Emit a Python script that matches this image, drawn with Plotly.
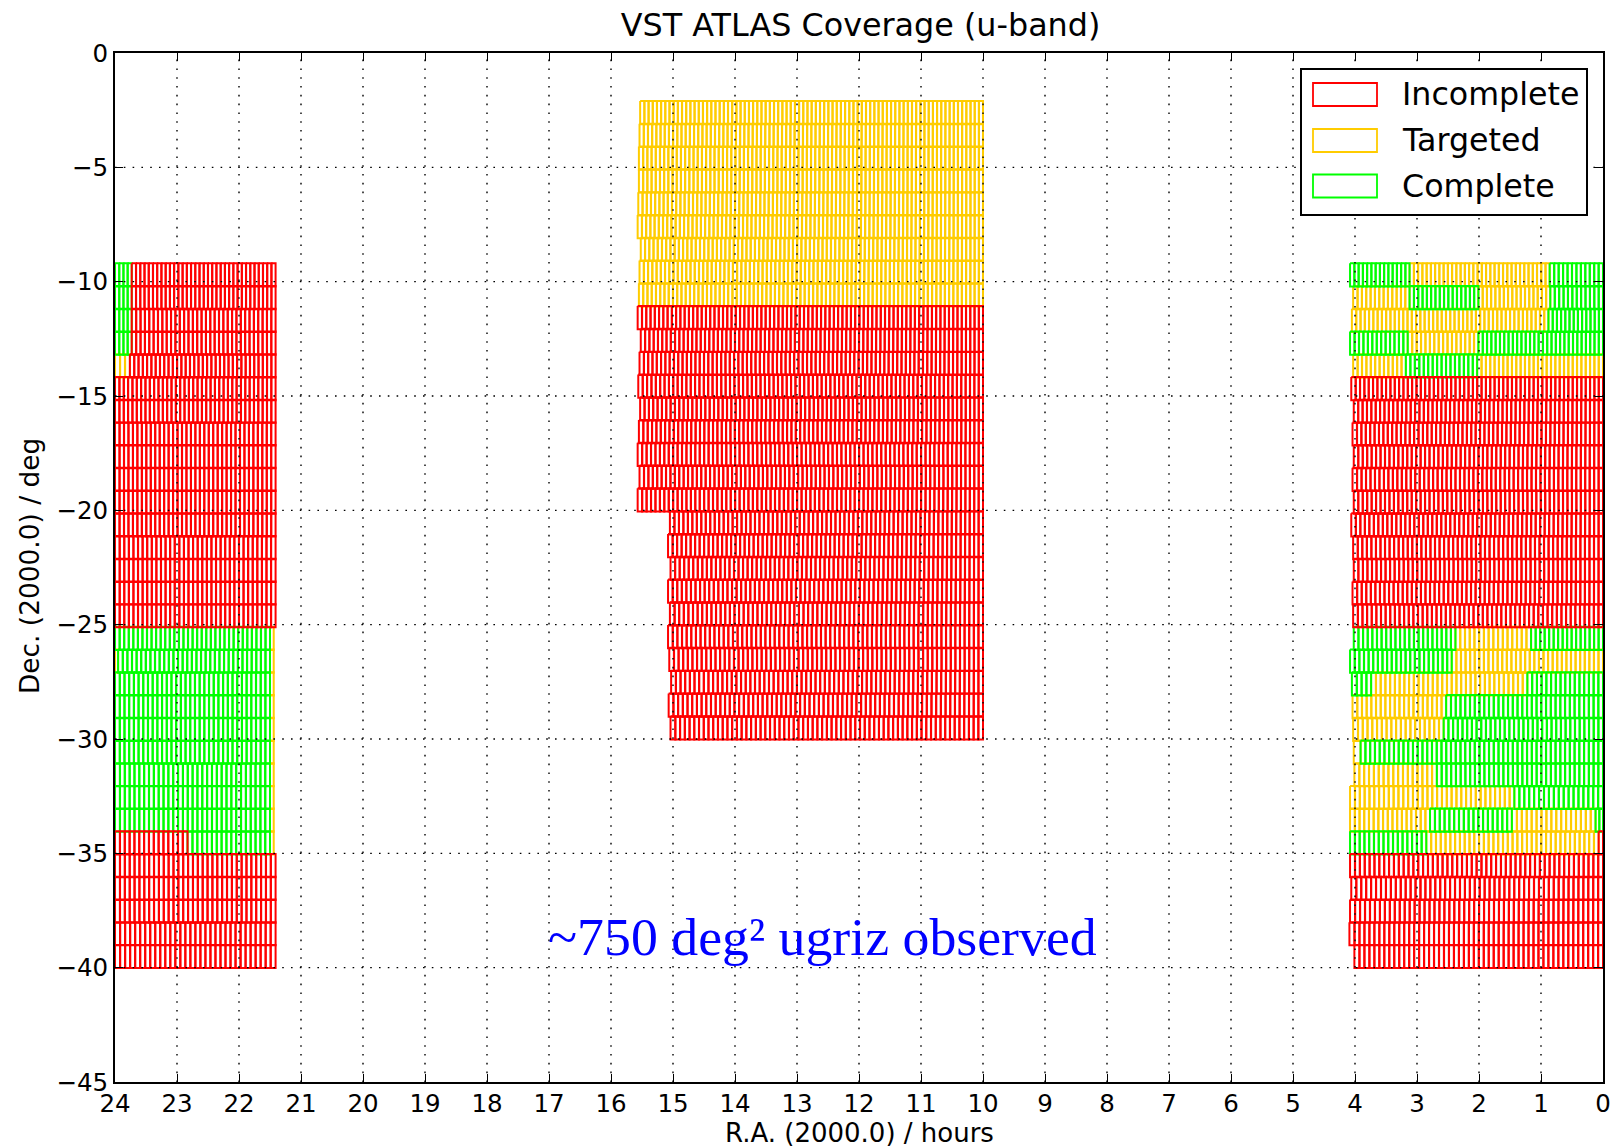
import plotly.graph_objects as go

R, Y, G = "Incomplete", "Targeted", "Complete"
COLORS = {R: "#ff0000", Y: "#ffcc00", G: "#00ff00"}

# Top edge and row height of the centre block and of the two side blocks
CENTRE_TOP, CENTRE_H = -2.1, 0.9964
SIDE_TOP, SIDE_H = -9.2, 0.9935

# RA width (hours) of one tile in each row of the centre block, top to bottom
centre_tile = [0.0675, 0.0675, 0.0676, 0.0677, 0.0678, 0.068, 0.0682, 0.0685, 0.0688, 0.069,
               0.0693, 0.0696, 0.07, 0.0703, 0.0707, 0.071, 0.0714, 0.0718, 0.0722, 0.0726,
               0.073, 0.0734, 0.0738, 0.0742, 0.0746, 0.075, 0.0754, 0.0758]
# RA width (hours) of one tile in each row of the side blocks, top to bottom
side_tile = [0.0688, 0.069, 0.0693, 0.0696, 0.07, 0.0703, 0.0707, 0.071, 0.0714, 0.0718, 0.0722,
             0.0726, 0.073, 0.0734, 0.0738, 0.0742, 0.0746, 0.075, 0.0754, 0.0758, 0.0762, 0.0766,
             0.077, 0.0774, 0.0778, 0.0782, 0.0786, 0.079, 0.0794, 0.0798, 0.08]

# Centre block: left RA of every row; right edge is the same for all
centre_right = 10.0
centre_status = [Y] * 9 + [R] * 19
centre_left = [15.53, 15.54, 15.55, 15.55, 15.56, 15.57, 15.52, 15.54, 15.55,
               15.57, 15.52, 15.54, 15.56, 15.53, 15.55, 15.57, 15.54, 15.57,
               15.05, 15.08, 15.04, 15.08, 15.05, 15.08, 15.06, 15.03, 15.07, 15.04]

# Left block: segments in RA from 24 downward
left_rows = [
    [(24, 23.73, G), (23.73, 21.41, R)],
    [(24, 23.73, G), (23.73, 21.41, R)],
    [(24, 23.73, G), (23.73, 21.41, R)],
    [(24, 23.73, G), (23.73, 21.41, R)],
    [(24, 23.76, Y), (23.76, 21.41, R)],
] + [[(24, 21.41, R)] for _ in range(11)] + [
    [(24, 21.50, G), (21.50, 21.44, Y)],
    [(24, 23.95, Y), (23.95, 21.50, G), (21.50, 21.44, Y)],
    [(24, 21.50, G), (21.50, 21.44, Y)],
    [(24, 21.50, G), (21.50, 21.44, Y)],
    [(24, 21.50, G), (21.50, 21.44, Y)],
    [(24, 21.50, G), (21.50, 21.44, Y)],
    [(24, 21.50, G), (21.50, 21.44, Y)],
    [(24, 21.50, G), (21.50, 21.44, Y)],
    [(24, 21.50, G), (21.50, 21.44, Y)],
    [(24, 22.83, R), (22.83, 21.50, G), (21.50, 21.44, Y)],
] + [[(24, 21.41, R)] for _ in range(5)]

# Right block
right_rows = [
    [(4.08, 3.12, G), (3.12, 0.86, Y), (0.86, 0, G)],
    [(4.03, 3.12, Y), (3.12, 2.01, G), (2.01, 0.85, Y), (0.85, 0, G)],
    [(4.05, 0.88, Y), (0.88, 0, G)],
    [(4.08, 3.15, G), (3.15, 2.01, Y), (2.01, 0, G)],
    [(4.03, 3.18, Y), (3.18, 2.03, G), (2.03, 0, Y)],
    [(4.06, 0, R)], [(4.02, 0, R)], [(4.04, 0, R)], [(4.02, 0, R)], [(4.04, 0, R)], [(4.02, 0, R)],
    [(4.06, 0, R)], [(4.03, 0, R)], [(4.02, 0, R)], [(4.04, 0, R)], [(4.03, 0, R)],
    [(4.02, 2.38, G), (2.38, 1.16, Y), (1.16, 0, G)],
    [(4.08, 2.44, G), (2.44, 0, Y)],
    [(4.05, 3.74, G), (3.74, 1.22, Y), (1.22, 0, G)],
    [(4.04, 2.53, Y), (2.53, 0, G)],
    [(4.03, 2.57, Y), (2.57, 0, G)],
    [(4.02, 3.91, Y), (3.91, 0, G)],
    [(4.01, 2.68, Y), (2.68, 0, G)],
    [(4.08, 1.43, Y), (1.43, 0, G)],
    [(4.08, 2.79, Y), (2.79, 1.47, G), (1.47, 0.12, Y), (0.12, 0, G)],
    [(4.08, 2.85, G), (2.85, 0.07, Y), (0.07, 0, R)],
    [(4.08, 0, R)], [(4.06, 0, R)], [(4.08, 0, R)], [(4.09, 0, R)], [(4.01, 0, R)],
]

x_ticks = list(range(0, 25))
y_ticks = [0, -5, -10, -15, -20, -25, -30, -35, -40, -45]
legend_names = [R, Y, G]
title_text = "VST ATLAS Coverage (u-band)"
x_title = "R.A. (2000.0) / hours"
y_title = "Dec. (2000.0) / deg"
note_text = "~750 deg\u00b2 ugriz observed"

# Build tile outlines ------------------------------------------------------
paths = {R: ([], []), Y: ([], []), G: ([], [])}


def add_segment(top, h, pitch, ra0, ra1, status):
    bot = top - h - 0.02
    w = ra0 - ra1
    n = max(1, round(w / pitch))
    step = w / n
    xs, ys = paths[status]
    for i in range(n):
        a = ra0 - i * step
        b = a - step * 1.04
        if i == n - 1:
            b = ra1
        xs.extend([a, b, b, a, a, None])
        ys.extend([top, top, bot, bot, top, None])


for r, (lft, st) in enumerate(zip(centre_left, centre_status)):
    add_segment(CENTRE_TOP - r * CENTRE_H, CENTRE_H, centre_tile[r], lft, centre_right, st)
for rows in (left_rows, right_rows):
    for i, segs in enumerate(rows):
        for s in segs:
            add_segment(SIDE_TOP - i * SIDE_H, SIDE_H, side_tile[i], *s)

fig = go.Figure()
for status in (Y, G, R):
    fig.add_trace(go.Scatter(x=paths[status][0], y=paths[status][1], mode="lines", name=status,
                             line=dict(color=COLORS[status], width=2.0), hoverinfo="skip",
                             showlegend=False))

# Dotted grid above the tiles, from tick arrays
gx, gy = [], []
for t in x_ticks[1:-1]:
    gx.extend([t, t, None])
    gy.extend([y_ticks[-1], y_ticks[0], None])
for t in y_ticks[1:-1]:
    gx.extend([x_ticks[-1], x_ticks[0], None])
    gy.extend([t, t, None])
fig.add_trace(go.Scatter(x=gx, y=gy, mode="lines", line=dict(color="black", width=1.4, dash="1.6px,7.2px"),
                         hoverinfo="skip", showlegend=False))

W, H = 1619, 1148
ML, MR, MT, MB = 115, 16, 53, 66
PW, PH = W - ML - MR, H - MT - MB


def px(x):
    return (x - ML) / PW


def py(y):
    return 1 - (y - MT) / PH


FONT = "DejaVu Sans"
shapes = [dict(type="rect", xref="paper", yref="paper", x0=px(1301), x1=px(1587), y0=py(215), y1=py(69),
               fillcolor="white", line=dict(color="black", width=2), layer="above")]
annotations = []
for name, y0 in zip(legend_names, (83, 129, 174.5)):
    shapes.append(dict(type="rect", xref="paper", yref="paper", x0=px(1313), x1=px(1377), y0=py(y0 + 23), y1=py(y0),
                       fillcolor="white", line=dict(color=COLORS[name], width=1.8), layer="above"))
    annotations.append(dict(xref="paper", yref="paper", x=px(1400), y=py(y0 + 11), text=name, showarrow=False,
                            xanchor="left", yanchor="middle", font=dict(family=FONT, size=31.7, color="black")))
annotations.append(dict(xref="x", yref="y", x=12.59, y=-38.64, text=note_text, showarrow=False,
                        xanchor="center", yanchor="middle",
                        font=dict(family="Liberation Serif", size=53.8, color="#0000ff")))
annotations.append(dict(xref="paper", yref="paper", x=px(859.6), y=py(1133), text=x_title, showarrow=False,
                        xanchor="center", yanchor="middle", borderpad=0,
                        font=dict(family=FONT, size=26, color="black")))
annotations.append(dict(xref="paper", yref="paper", x=px(29), y=py(566), text=y_title, showarrow=False, textangle=-90,
                        xanchor="center", yanchor="middle", font=dict(family=FONT, size=26.4, color="black")))

axis_common = dict(showline=True, mirror="allticks", linecolor="black", linewidth=2, ticks="inside", ticklen=8,
                   tickwidth=1.4, tickcolor="black", showgrid=False, zeroline=False, automargin=False,
                   tickfont=dict(family=FONT, size=24.5, color="black"))
fig.update_layout(
    width=W, height=H, autosize=False, paper_bgcolor="white", plot_bgcolor="white",
    margin=dict(l=ML, r=MR, t=MT, b=MB),
    title=dict(text=title_text, x=860.6 / W, xref="container", xanchor="center",
               y=1 - 25 / H, yanchor="middle", font=dict(family=FONT, size=31.8, color="black")),
    xaxis=dict(range=[24, 0], tickmode="array", tickvals=x_ticks, ticktext=[str(t) for t in x_ticks], ticklabelstandoff=-1, **axis_common),
    yaxis=dict(range=[-45, 0], tickmode="array", tickvals=y_ticks, **axis_common),
    shapes=shapes, annotations=annotations, showlegend=False,
)

fig.write_html("out.html", config={"displayModeBar": False},
               post_script="document.body.style.margin='0';document.body.style.overflow='hidden';")
